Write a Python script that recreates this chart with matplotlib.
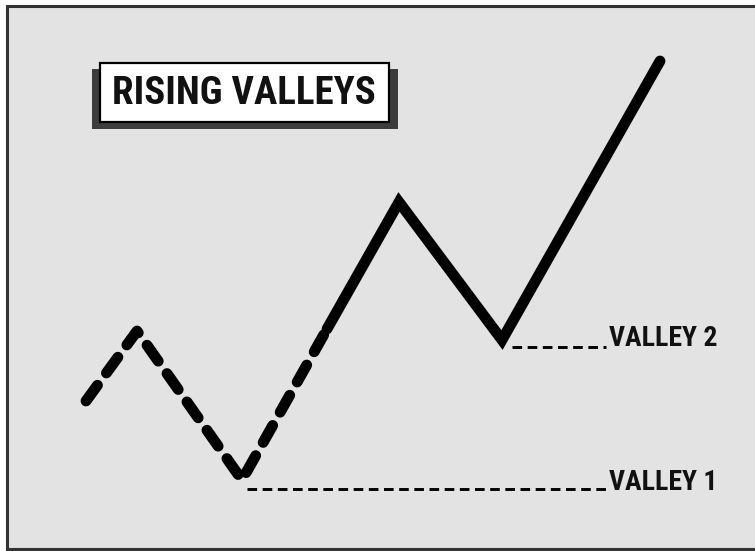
import matplotlib
matplotlib.use("Agg")
import matplotlib.pyplot as plt
from matplotlib.patches import Rectangle

# price path (bar index, price) - dashed part first, then solid part
dash_t = [86, 137, 242, 327]
dash_p = [150, 220, 71, 222]
solid_t = [327, 399, 502, 660]
solid_p = [222, 349, 211, 490]

# valley reference levels
valley_names = ["VALLEY 1", "VALLEY 2"]
valley_start = [247, 512]
valley_level = [62, 204]
valley_label_y = [69, 212]

title = "RISING VALLEYS"
font = ["Roboto Condensed", "Liberation Sans Narrow", "DejaVu Sans"]

fig = plt.figure(figsize=(7.55, 5.51), dpi=100, facecolor="white")
ax = fig.add_axes([0, 0, 1, 1])
ax.set_xlim(0, 755)
ax.set_ylim(0, 551)
ax.axis("off")

# gray panel with dark frame
ax.add_patch(Rectangle((7, 2), 800, 543, facecolor="#e3e3e3",
                       edgecolor="#333333", lw=2.2, zorder=0))

# wave
ax.plot(dash_t, dash_p, color="black", lw=7.8, linestyle=(0, (1.8, 1.4)),
        dash_capstyle="round", solid_joinstyle="round", zorder=3)
ax.plot(solid_t, solid_p, color="black", lw=7.8, solid_capstyle="round",
        solid_joinstyle="miter", zorder=3)

# valley lines and labels
for name, x0, lev, ly in zip(valley_names, valley_start, valley_level, valley_label_y):
    ax.plot([x0, 606], [lev, lev], color="black", lw=2.1,
            linestyle=(0, (3.3, 1.9)), zorder=2)
    ax.text(609, ly, name, family=font, weight="bold", stretch="condensed",
            fontsize=20, ha="left", va="center", color="#111111", zorder=4)

# title box with shadow
ax.add_patch(Rectangle((92, 422), 306, 60, facecolor="#3c3c3c",
                       edgecolor="none", zorder=4))
ax.add_patch(Rectangle((100, 429), 289, 59, facecolor="white",
                       edgecolor="black", lw=1.6, zorder=5))
ax.text(244, 458, title, family=font, weight="bold", stretch="condensed",
        fontsize=28, ha="center", va="center", color="#111111", zorder=6)

fig.savefig("out.png", dpi=100, facecolor="white")
